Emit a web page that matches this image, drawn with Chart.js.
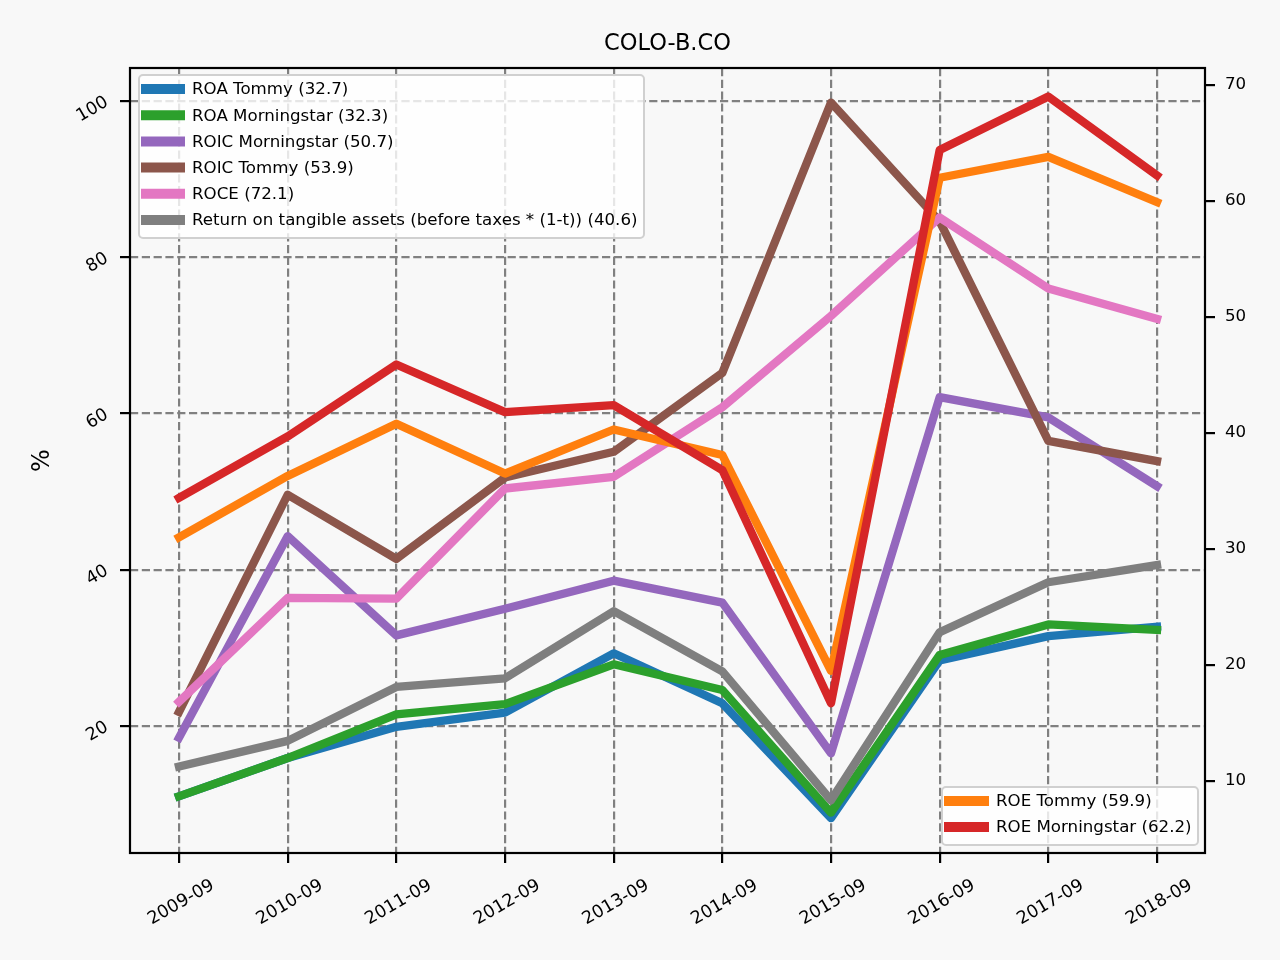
<!DOCTYPE html>
<html>
<head>
<meta charset="utf-8">
<script src="https://cdn.jsdelivr.net/npm/chart.js@4/dist/chart.umd.min.js"></script>
<style>
  html, body { margin: 0; padding: 0; background: #f8f8f8; }
  #c { display: block; width: 1280px; height: 960px; }
</style>
</head>
<body>
<canvas id="c" width="1280" height="960"></canvas>
<script>
// ---------- data ----------
const chartTitle = 'COLO-B.CO';
const yAxisLabel = '%';
const categories = ['2009-09', '2010-09', '2011-09', '2012-09', '2013-09',
                    '2014-09', '2015-09', '2016-09', '2017-09', '2018-09'];
const leftTicks = [20, 40, 60, 80, 100];
const rightTicks = [10, 20, 30, 40, 50, 60, 70];

// left axis series (%)
const roaTommy        = [11.0, 15.9, 19.9, 21.7, 29.3, 22.9, 8.2, 28.4, 31.5, 32.7];
const roaMorningstar  = [11.0, 15.9, 21.5, 22.8, 27.9, 24.6, 8.9, 29.1, 33.0, 32.3];
const roicMorningstar = [18.5, 44.3, 31.6, 35.0, 38.6, 35.8, 16.5, 62.1, 59.5, 50.7];
const roicTommy       = [21.8, 49.6, 41.4, 51.8, 55.1, 65.2, 99.8, 84.6, 56.5, 53.9];
const roce            = [23.1, 36.4, 36.3, 50.4, 51.9, 60.8, 72.5, 85.1, 76.0, 72.1];
const rota            = [14.8, 18.1, 25.0, 26.1, 34.7, 27.0, 10.5, 32.0, 38.4, 40.6];

// right axis series (%)
const roeTommy        = [31.0, 36.3, 40.8, 36.5, 40.3, 38.1, 19.5, 62.0, 63.8, 59.9];
const roeMorningstar  = [34.4, 39.7, 45.9, 41.8, 42.4, 36.8, 16.7, 64.4, 69.0, 62.2];

const leftNames  = ['ROA Tommy', 'ROA Morningstar', 'ROIC Morningstar', 'ROIC Tommy', 'ROCE',
                    'Return on tangible assets (before taxes * (1-t))'];
const leftValues = [roaTommy, roaMorningstar, roicMorningstar, roicTommy, roce, rota];
const rightNames  = ['ROE Tommy', 'ROE Morningstar'];
const rightValues = [roeTommy, roeMorningstar];

// ---------- styles ----------
const leftColors  = ['#1f77b4', '#2ca02c', '#9467bd', '#8c564b', '#e377c2', '#7f7f7f'];
const rightColors = ['#ff7f0e', '#d62728'];
const FONT = "'DejaVu Sans', sans-serif";
const BG = '#f8f8f8';

function toPoints(arr) { return arr.map((v, i) => ({ x: i, y: v })); }
function makeLabel(name, arr) { return name + ' (' + arr[arr.length - 1].toFixed(1) + ')'; }

const datasets = [];
leftNames.forEach((n, i) => datasets.push({
  label: makeLabel(n, leftValues[i]), data: toPoints(leftValues[i]), yAxisID: 'y',
  borderColor: leftColors[i], backgroundColor: leftColors[i]
}));
rightNames.forEach((n, i) => datasets.push({
  label: makeLabel(n, rightValues[i]), data: toPoints(rightValues[i]), yAxisID: 'y1',
  borderColor: rightColors[i], backgroundColor: rightColors[i]
}));
const N = datasets.length;
datasets.forEach((d, i) => {
  d.order = N - i; d.fill = false; d.pointRadius = 0; d.borderWidth = 8.3;
  d.tension = 0; d.borderJoinStyle = 'round'; d.borderCapStyle = 'square';
});

// ---------- plugins ----------
const bgPlugin = {
  id: 'bg',
  beforeDraw(chart) {
    const c = chart.ctx; c.save(); c.fillStyle = BG; c.fillRect(0, 0, chart.width, chart.height); c.restore();
  }
};
const framePlugin = {
  id: 'frame',
  afterDatasetsDraw(chart) {
    const { left, top, right, bottom } = chart.chartArea;
    const c = chart.ctx; c.save();
    c.strokeStyle = '#000'; c.lineWidth = 2.2;
    c.strokeRect(left, top, right - left, bottom - top);
    c.restore();
  }
};
const textPlugin = {
  id: 'texts',
  afterDraw(chart) {
    const c = chart.ctx; const ca = chart.chartArea;
    c.save();
    c.fillStyle = '#000';
    c.font = '22.5px ' + FONT;
    c.textAlign = 'center'; c.textBaseline = 'alphabetic';
    c.fillText(chartTitle, (ca.left + ca.right) / 2, 50);
    c.font = '24px ' + FONT;
    c.translate(43, (ca.top + ca.bottom) / 2);
    c.rotate(-Math.PI / 2);
    c.textBaseline = 'middle';
    c.fillText(yAxisLabel, 0, 0);
    c.restore();
  }
};
function roundRect(c, x, y, w, h, r) {
  c.beginPath();
  c.moveTo(x + r, y); c.lineTo(x + w - r, y); c.arcTo(x + w, y, x + w, y + r, r);
  c.lineTo(x + w, y + h - r); c.arcTo(x + w, y + h, x + w - r, y + h, r);
  c.lineTo(x + r, y + h); c.arcTo(x, y + h, x, y + h - r, r);
  c.lineTo(x, y + r); c.arcTo(x, y, x + r, y, r); c.closePath();
}
const legendBoxes = [
  { idx: [0, 1, 2, 3, 4, 5], x: 139, y: 75, w: 505, h: 163, row0: 89, step: 26.2, hx0: 141, hx1: 185, tx: 192 },
  { idx: [6, 7], x: 942, y: 787, w: 256, h: 58, row0: 801, step: 26, hx0: 944, hx1: 989, tx: 996 }
];
const legendPlugin = {
  id: 'legends',
  afterDraw(chart) {
    const c = chart.ctx;
    legendBoxes.forEach(L => {
      c.save();
      roundRect(c, L.x, L.y, L.w, L.h, 4);
      c.fillStyle = 'rgba(255,255,255,0.8)'; c.fill();
      c.strokeStyle = '#d0d0d0'; c.lineWidth = 2; c.stroke();
      c.font = '16.67px ' + FONT; c.textBaseline = 'middle'; c.textAlign = 'left';
      L.idx.forEach((di, k) => {
        const ds = chart.data.datasets[di];
        const yy = L.row0 + k * L.step;
        c.strokeStyle = ds.borderColor; c.lineWidth = 10; c.lineCap = 'butt';
        c.beginPath(); c.moveTo(L.hx0, yy); c.lineTo(L.hx1, yy); c.stroke();
        c.fillStyle = '#000';
        c.fillText(ds.label, L.tx, yy + 1);
      });
      c.restore();
    });
  }
};

// ---------- scales ----------
const tickFont = { family: FONT, size: 16.67 };
const rotFont = { family: FONT, size: 17.6 };
const gridOpts = { color: '#808080', lineWidth: 2.2, tickColor: '#000', tickWidth: 2.2, tickLength: 10, tickBorderDash: [], drawTicks: true };

new Chart(document.getElementById('c'), {
  type: 'line',
  data: { datasets },
  options: {
    responsive: false, animation: false, devicePixelRatio: 1,
    layout: { padding: { top: 68, left: 0, right: 0, bottom: 0 } },
    plugins: { legend: { display: false }, tooltip: { enabled: false }, title: { display: false } },
    scales: {
      x: {
        type: 'linear', min: -0.4509, max: 9.4417,
        afterBuildTicks: s => { s.ticks = categories.map((c, i) => ({ value: i })); },
        ticks: { callback: v => categories[v], autoSkip: false, minRotation: 30, maxRotation: 30,
                 padding: 12, labelOffset: 34, color: '#000', font: rotFont },
        grid: gridOpts,
        border: { display: false, dash: [8.2, 3.6] },
        afterFit: s => { s.height = 107; }
      },
      y: {
        type: 'linear', position: 'left', min: 3.744, max: 104.224,
        afterBuildTicks: s => { s.ticks = leftTicks.map(v => ({ value: v })); },
        ticks: { minRotation: 30, maxRotation: 30, padding: 13, color: '#000', font: rotFont },
        grid: gridOpts,
        border: { display: false, dash: [8.2, 3.6] },
        afterFit: s => { s.width = 130; }
      },
      y1: {
        type: 'linear', position: 'right', min: 3.793, max: 71.465,
        afterBuildTicks: s => { s.ticks = rightTicks.map(v => ({ value: v })); },
        ticks: { padding: 10, color: '#000', font: tickFont },
        grid: Object.assign({}, gridOpts, { drawOnChartArea: false }),
        border: { display: false },
        afterFit: s => { s.width = 75; }
      }
    }
  },
  plugins: [bgPlugin, framePlugin, textPlugin, legendPlugin]
});
</script>
</body>
</html>
